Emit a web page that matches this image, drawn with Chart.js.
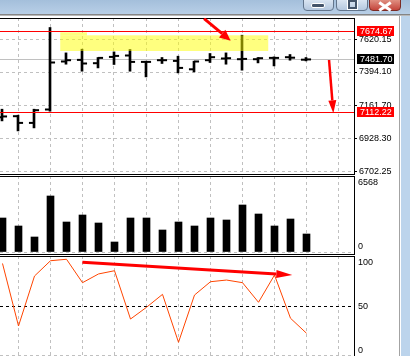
<!DOCTYPE html>
<html>
<head>
<meta charset="utf-8">
<script src="https://cdn.jsdelivr.net/npm/chart.js@4.4.1/dist/chart.umd.min.js"></script>
<style>
  body { margin: 0; width: 410px; height: 356px; overflow: hidden; position: relative; background: #fff; }
  canvas { position: absolute; left: 0; }
  #title { position: absolute; left: 0; top: 0; width: 410px; height: 14px; background: linear-gradient(#a4bfdb, #b8cfe7); border-bottom: 1px solid #858585; }
  #title2 { position: absolute; left: 0; top: 15px; width: 410px; height: 1px; background: #b9b9b9; }
  #edge { position: absolute; left: 399px; top: 16px; width: 1px; height: 340px; background: #a3a3a3; }
  #strip { position: absolute; left: 401px; top: 16px; width: 9px; height: 340px; background: #bcd4ec; }
  .btn { position: absolute; top: -4px; height: 13px; border: 1px solid #62758c; border-radius: 0 0 4px 4px; background: linear-gradient(#e4edf7, #b5c8df); }
  .btn.close { background: linear-gradient(#e8a596, #c4453b); border-color: #7b2b25; }
  .g-min { position: absolute; left: 7px; top: 6px; width: 12px; height: 3px; background: #44546a; border: 1px solid #fff; border-radius: 2px; }
  .g-res { position: absolute; left: 11px; top: 3px; width: 5px; height: 5px; border: 2px solid #44546a; outline: 1px solid #fff; }
  .g-x1, .g-x2 { position: absolute; left: 8px; top: 8px; width: 14px; height: 3px; background: #fff; }
  .g-x1 { transform: rotate(35deg); }
  .g-x2 { transform: rotate(-35deg); }
</style>
</head>
<body>
<div id="title"></div>
<div id="title2"></div>
<div class="btn" style="left:303px;width:29px"><div class="g-min"></div></div>
<div class="btn" style="left:336px;width:30px"><div class="g-res"></div></div>
<div class="btn close" style="left:369px;width:30px"><div class="g-x1"></div><div class="g-x2"></div></div>
<div id="edge"></div>
<div id="strip"></div>

<canvas id="main" width="400" height="157" style="top:18px"></canvas>
<canvas id="vol" width="400" height="79" style="top:176px"></canvas>
<canvas id="rsi" width="400" height="102" style="top:256px"></canvas>

<script>
// one entry per bar, oldest visible bar first
var opens  = [7080.0, 7086.8, 7040.2, 7133.4, 7467.2, 7478.3, 7455.3, 7499.1, 7508.9, 7464.4,
              7476.2, 7471.3, 7413.0, 7476.2, 7488.0, 7483.2, 7483.2, 7492.2, 7497.1, 7479.7];
var highs  = [7135.5, 7093.7, 7135.5, 7703.6, 7527.0, 7552.7, 7495.0, 7533.9, 7550.6, 7469.3,
              7495.0, 7504.0, 7469.3, 7522.8, 7527.0, 7650.0, 7495.0, 7499.1, 7515.8, 7495.0];
var lows   = [7054.1, 6984.5, 7005.4, 7121.5, 7448.4, 7399.7, 7422.6, 7446.3, 7399.7, 7360.1,
              7453.3, 7387.9, 7394.8, 7460.2, 7448.4, 7406.7, 7457.4, 7436.5, 7476.2, 7471.3];
var closes = [7085.0, 7040.2, 7128.5, 7460.2, 7476.2, 7453.3, 7492.2, 7506.1, 7464.4, 7464.4,
              7476.2, 7422.6, 7467.2, 7497.1, 7490.1, 7485.2, 7490.1, 7492.2, 7493.6, 7481.7];
var volumes = [2978, 2277, 1314, 4905, 2627, 3240, 2540, 876, 2978, 2978,
               1927, 2627, 2277, 2978, 2803, 4117, 3328, 2277, 2890, 1577];
var rsi = [93.9, 30.1, 81.1, 96.7, 98.2, 74.3, 83.2, 86.5, 37.2, 49.2,
           62.4, 13.5, 61.7, 75.3, 77.0, 74.3, 54.3, 82.1, 38.0, 22.7];

var priceTicks = [6702.25, 6928.30, 7161.70, 7394.10, 7620.15];
var volTicks = [0, 6568];
var rsiTicks = [0, 50, 100];
var gridBars = [1, 3, 5, 7, 9, 11, 13, 15, 17, 19, 21];

// horizontal price lines: resistance, bid, support
var levels = [7674.67, 7481.70, 7112.22];

Chart.defaults.font.family = '"Liberation Sans", Arial, sans-serif';
Chart.defaults.font.size = 9;
Chart.defaults.color = '#000';

var GRID = '#c0c0c0';
var levelStyle = [
  { line: '#ff0000', box: '#ff0000', front: true },
  { line: '#c0c0c0', box: '#000000', front: false },
  { line: '#ff0000', box: '#ff0000', front: true }
];

function noPad(s) {
  s.paddingTop = 0; s.paddingBottom = 0; s.paddingLeft = 0; s.paddingRight = 0;
}

function xAxis(min) {
  return {
    type: 'linear', min: min, max: min + 354 / 16, offset: false,
    afterBuildTicks: function (s) { s.ticks = gridBars.map(function (v) { return { value: v }; }); },
    afterFit: function (s) { s.height = 0; noPad(s); },
    ticks: { display: false },
    grid: { color: GRID, drawTicks: false, offset: false },
    border: { display: false, dash: [3, 3] }
  };
}

function yAxis(min, max, values, label, gridColor, drawTicks) {
  return {
    position: 'right', min: min, max: max,
    afterBuildTicks: function (s) { s.ticks = values.map(function (v) { return { value: v }; }); },
    afterFit: function (s) { s.width = 46; noPad(s); },
    ticks: { padding: drawTicks ? 2 : 4, autoSkip: false, callback: label },
    grid: { color: gridColor, drawTicks: drawTicks, tickLength: 3, tickColor: '#000' },
    border: { display: true, color: '#000', dash: [3, 3] }
  };
}

var framePlugin = {
  id: 'frame',
  afterDraw: function (chart) {
    var ctx = chart.ctx, a = chart.chartArea;
    ctx.save();
    ctx.strokeStyle = '#000';
    ctx.lineWidth = 1;
    ctx.beginPath();
    ctx.moveTo(0, a.top + 0.5); ctx.lineTo(a.right + 1, a.top + 0.5);
    ctx.moveTo(0, a.bottom - 0.5); ctx.lineTo(a.right + 1, a.bottom - 0.5);
    ctx.stroke();
    ctx.restore();
  }
};

function arrow(ctx, x1, y1, x2, y2, w, head, half) {
  var ang = Math.atan2(y2 - y1, x2 - x1);
  var bx = x2 - head * Math.cos(ang), by = y2 - head * Math.sin(ang);
  ctx.save();
  ctx.strokeStyle = ctx.fillStyle = '#ff0000';
  ctx.lineWidth = w;
  ctx.beginPath(); ctx.moveTo(x1, y1); ctx.lineTo(bx, by); ctx.stroke();
  ctx.beginPath();
  ctx.moveTo(x2, y2);
  ctx.lineTo(bx + half * Math.sin(ang), by - half * Math.cos(ang));
  ctx.lineTo(bx - half * Math.sin(ang), by + half * Math.cos(ang));
  ctx.closePath(); ctx.fill();
  ctx.restore();
}

function drawLevels(chart, front) {
  var ctx = chart.ctx, a = chart.chartArea, y = chart.scales.y;
  ctx.save();
  ctx.setLineDash([]);
  ctx.lineWidth = 1;
  levels.forEach(function (v, i) {
    if (levelStyle[i].front !== front) return;
    var py = Math.floor(y.getPixelForValue(v)) + 0.5;
    ctx.strokeStyle = levelStyle[i].line;
    ctx.beginPath(); ctx.moveTo(a.left, py); ctx.lineTo(a.right, py); ctx.stroke();
  });
  ctx.restore();
}

var mainOverlay = {
  id: 'mainOverlay',
  beforeDatasetsDraw: function (chart) { drawLevels(chart, false); },
  afterDatasetsDraw: function (chart) {
    drawLevels(chart, true);
    // highlighter box over the consolidation
    var ctx = chart.ctx, x = chart.scales.x, y = chart.scales.y;
    ctx.save();
    ctx.fillStyle = 'rgba(255, 255, 0, 0.5)';
    var l = x.getPixelForValue(3.64), r = x.getPixelForValue(16.64);
    var t = y.getPixelForValue(7649.4), b = y.getPixelForValue(7540.2);
    ctx.fillRect(l, t, r - l, b - t);
    var r2 = x.getPixelForValue(5.31), t2 = y.getPixelForValue(7670.2);
    ctx.fillRect(l, t2, r2 - l, t - t2);
    ctx.restore();
  },
  afterDraw: function (chart) {
    var ctx = chart.ctx, a = chart.chartArea, x = chart.scales.x, y = chart.scales.y;
    ctx.save();
    levels.forEach(function (v, i) {
      var py = Math.floor(y.getPixelForValue(v));
      ctx.fillStyle = levelStyle[i].box;
      ctx.fillRect(a.right + 3, py - 5, 37, 10);
      ctx.fillStyle = '#fff';
      ctx.font = '9px "Liberation Sans", Arial, sans-serif';
      ctx.textBaseline = 'middle';
      ctx.fillText(v.toFixed(2), a.right + 6, py + 0.5);
    });
    ctx.restore();
    arrow(ctx, x.getPixelForValue(12.63), y.getPixelForValue(7765), x.getPixelForValue(14.29), y.getPixelForValue(7611.8), 3, 11, 5);
    arrow(ctx, x.getPixelForValue(20.44), y.getPixelForValue(7477.6), x.getPixelForValue(20.71), y.getPixelForValue(7107.0), 2.5, 13, 4);
  }
};

var rsiOverlay = {
  id: 'rsiOverlay',
  afterDraw: function (chart) {
    var x = chart.scales.x, y = chart.scales.y;
    arrow(chart.ctx, x.getPixelForValue(4.99), y.getPixelForValue(95.1), x.getPixelForValue(18.11), y.getPixelForValue(82.1), 3, 16, 4);
  }
};

var common = { responsive: false, animation: false, devicePixelRatio: 1,
  layout: { padding: 0, autoPadding: false },
  plugins: { legend: { display: false }, tooltip: { enabled: false } } };

new Chart(document.getElementById('main'), {
  type: 'bar',
  data: {
    datasets: [
      { type: 'bar', data: highs.map(function (h, i) { return { x: i, y: [lows[i], h] }; }),
        backgroundColor: '#000', barThickness: 2, borderWidth: 0 },
      { type: 'line', data: opens.map(function (o, i) { return { x: i - 0.16, y: o }; }),
        showLine: false, pointStyle: 'line', pointRadius: 2.5, pointBorderWidth: 2, pointBorderColor: '#000' },
      { type: 'line', data: closes.map(function (c, i) { return { x: i + 0.16, y: c }; }),
        showLine: false, pointStyle: 'line', pointRadius: 2.5, pointBorderWidth: 2, pointBorderColor: '#000' }
    ]
  },
  options: Object.assign({}, common, {
    scales: {
      x: xAxis(-0.125),
      y: yAxis(6677.9, 7769.65, priceTicks, function (v) { return v.toFixed(2); }, GRID, true)
    }
  }),
  plugins: [framePlugin, mainOverlay]
});

new Chart(document.getElementById('vol'), {
  type: 'bar',
  data: {
    datasets: [
      { data: volumes.map(function (v, i) { return { x: i, y: v }; }),
        backgroundColor: '#000', barThickness: 7, borderWidth: 0 }
    ]
  },
  options: Object.assign({}, common, {
    scales: {
      x: xAxis(-2.5 / 16),
      y: yAxis(-262.7, 6655.6, volTicks,
        function (v) { return v === 0 ? ['0', ''] : ['', String(v)]; },
        function (c) { return c.tick && c.tick.value === 0 ? GRID : 'rgba(0,0,0,0)'; }, false)
    }
  }),
  plugins: [framePlugin]
});

new Chart(document.getElementById('rsi'), {
  type: 'line',
  data: {
    datasets: [
      { data: rsi.map(function (v, i) { return { x: i, y: v }; }),
        borderColor: '#ff4500', borderWidth: 1, pointRadius: 0, tension: 0 }
    ]
  },
  options: Object.assign({}, common, {
    scales: {
      x: xAxis(-2.5 / 16),
      y: yAxis(-2.55, 101.53, rsiTicks,
        function (v) { return v === 0 ? ['0', ''] : v === 100 ? ['', '100'] : '50'; },
        function (c) {
          if (!c.tick) return GRID;
          return c.tick.value === 50 ? '#000' : c.tick.value === 0 ? GRID : 'rgba(0,0,0,0)';
        }, false)
    }
  }),
  plugins: [framePlugin, rsiOverlay]
});
</script>
</body>
</html>
